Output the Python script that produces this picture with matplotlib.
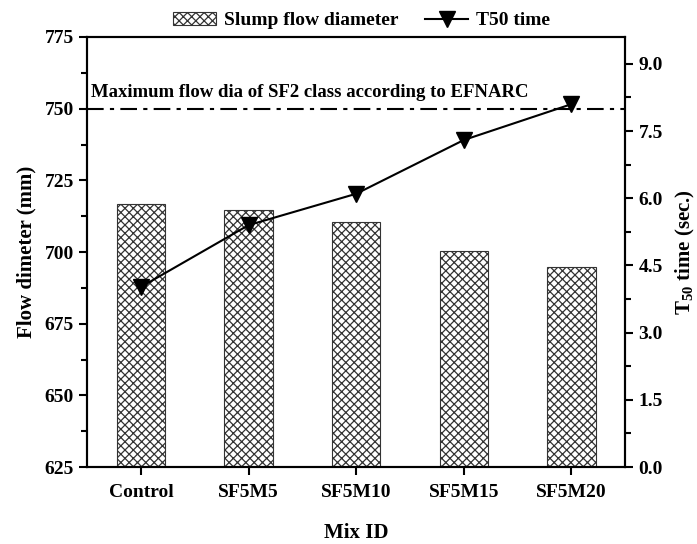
import matplotlib
matplotlib.use("Agg")
import matplotlib.pyplot as plt
from matplotlib.ticker import MultipleLocator, FormatStrFormatter

plt.rcParams['font.family'] = ['Liberation Serif', 'DejaVu Serif']
plt.rcParams['font.weight'] = 'bold'
plt.rcParams['mathtext.fontset'] = 'custom'
plt.rcParams['mathtext.rm'] = 'Liberation Serif:bold'
plt.rcParams['mathtext.bf'] = 'Liberation Serif:bold'
plt.rcParams['mathtext.it'] = 'Liberation Serif:bold'
plt.rcParams['hatch.linewidth'] = 0.9

categories = ['Control', 'SF5M5', 'SF5M10', 'SF5M15', 'SF5M20']
flow_diameter = [716.7, 714.6, 710.6, 700.5, 694.6]
t50_time = [4.02, 5.4, 6.1, 7.3, 8.1]
ef_limit = 750

fig = plt.figure(figsize=(6.97, 5.44), dpi=100)
ax = fig.add_axes([0.125, 0.1415, 0.772, 0.7905])
x = list(range(len(categories)))

bars = ax.bar(x, [v - 625 for v in flow_diameter], bottom=625, width=0.45,
              color='white', edgecolor='0.2', hatch='xxxx', linewidth=0.8,
              label='Slump flow diameter', zorder=2)
ax.axhline(ef_limit, color='black', linestyle='-.', linewidth=1.5, dashes=(8, 3, 2, 3), zorder=3)
ax.text(-0.46, ef_limit + 2.5, 'Maximum flow dia of SF2 class according to EFNARC',
        fontsize=13.5, fontweight='bold', va='bottom', ha='left')

ax.set_xlim(-0.5, 4.5)
ax.set_ylim(625, 775)
ax.set_xticks(x)
ax.set_xticklabels(categories, fontsize=14, fontweight='bold')
ax.yaxis.set_major_locator(MultipleLocator(25))
ax.yaxis.set_minor_locator(MultipleLocator(12.5))
ax.tick_params(axis='y', which='major', length=6, width=1.5, labelsize=14, direction='out')
ax.tick_params(axis='y', which='minor', length=4, width=1.5, direction='out')
ax.tick_params(axis='x', length=6, width=1.5, direction='out', pad=6)
ax.set_xlabel('Mix ID', fontsize=15, fontweight='bold', labelpad=16)
ax.set_ylabel('Flow dimeter (mm)', fontsize=15, fontweight='bold', labelpad=6)
for lab in ax.get_yticklabels():
    lab.set_fontweight('bold')
for s in ax.spines.values():
    s.set_linewidth(1.5)

ax2 = ax.twinx()
line, = ax2.plot(x, t50_time, color='black', linewidth=1.5, marker='v',
                 markersize=12, label='T50 time', zorder=4)
ax2.set_ylim(0, 9.6)
ax2.yaxis.set_major_locator(MultipleLocator(1.5))
ax2.yaxis.set_minor_locator(MultipleLocator(0.75))
ax2.yaxis.set_major_formatter(FormatStrFormatter('%.1f'))
ax2.tick_params(axis='y', which='major', length=6, width=1.5, labelsize=14, direction='out')
ax2.tick_params(axis='y', which='minor', length=4, width=1.5, direction='out')
ax2.set_ylabel(r'T$_{50}$ time (sec.)', fontsize=15, fontweight='bold', labelpad=8)
for lab in ax2.get_yticklabels():
    lab.set_fontweight('bold')
for s in ax2.spines.values():
    s.set_linewidth(1.5)

ax.legend([bars, line], ['Slump flow diameter', 'T50 time'], loc='lower center',
          bbox_to_anchor=(0.51, 0.995), ncol=2, frameon=False,
          handlelength=2.2, columnspacing=1.4, borderaxespad=0.1, handletextpad=0.4,
          prop={'weight': 'bold', 'size': 14})

fig.savefig('out.png', dpi=100)
